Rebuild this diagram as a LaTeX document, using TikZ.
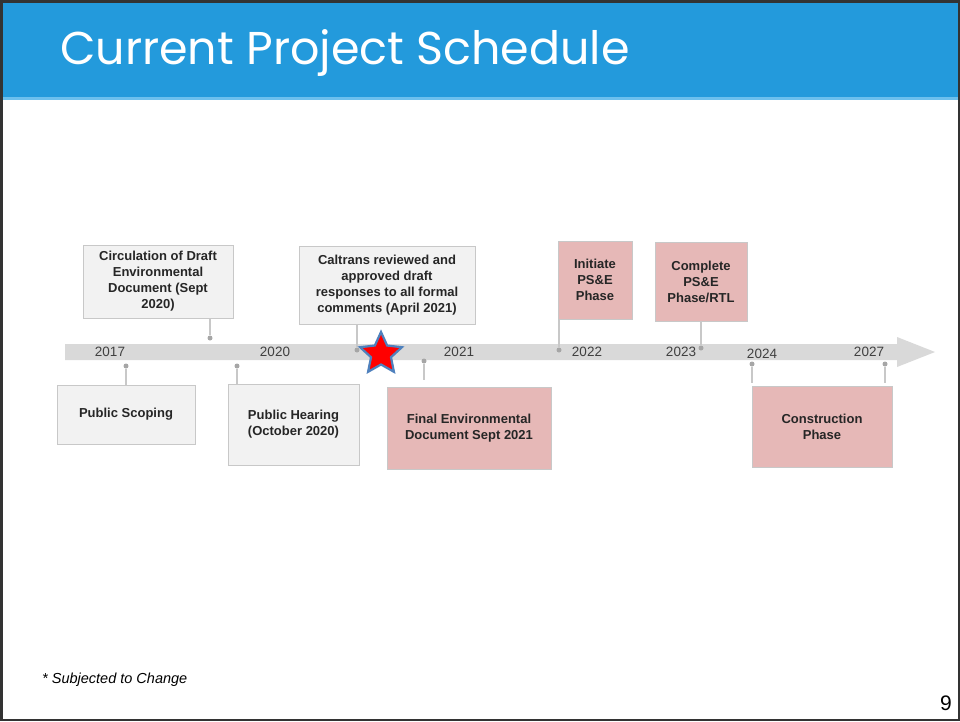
\documentclass[tikz,border=0pt]{standalone}
\usepackage{fontspec}
\setmainfont{Liberation Sans}
\newfontfamily\titlefont{Poppins}
\usetikzlibrary{shapes.geometric}
\definecolor{hdrblue}{HTML}{239ADC}
\definecolor{hdrline}{HTML}{6CC0EE}
\definecolor{barcol}{HTML}{D9D9D9}
\definecolor{greybox}{HTML}{F2F2F2}
\definecolor{pinkbox}{HTML}{E6B8B7}
\definecolor{boxline}{HTML}{C8C8C8}
\definecolor{dotcol}{HTML}{A6A6A6}
\definecolor{yearcol}{HTML}{404040}
\definecolor{starblue}{HTML}{4F81BD}
\tikzset{
  evbox/.style={draw=boxline, line width=1pt, fill=greybox, align=center, inner sep=0pt,
     font=\fontsize{13}{16}\selectfont\bfseries, text=black!85},
  pkbox/.style={evbox, fill=pinkbox},
  yr/.style={font=\fontsize{13.5}{16}\selectfont, text=yearcol, inner sep=0pt},
  dot/.style={circle, fill=dotcol, inner sep=0pt, minimum size=5pt},
  conn/.style={draw=boxline, line width=1.2pt}
}
\begin{document}
\begin{tikzpicture}[x=1pt,y=-1pt]
\useasboundingbox (0,0) rectangle (960,721);
\fill[white] (0,0) rectangle (960,721);
% header
\fill[hdrblue] (0,0) rectangle (960,98);
\fill[hdrline] (0,97) rectangle (960,100);
\node[anchor=west, text=white, font=\titlefont\fontsize{46}{52}\selectfont, inner sep=0pt] (title) at (60,53) {Current Project Schedule};
% border
\draw[line width=2.5pt, black!80] (1.25,1.25) rectangle (958.75,719.75);
% timeline bar
\fill[barcol] (65,344) -- (897,344) -- (897,337) -- (935,352) -- (897,367) -- (897,360) -- (65,360) -- cycle;
% years
\node[yr] (y2017) at (110,352) {2017};
\node[yr] (y2020) at (275,352) {2020};
\node[yr] (y2021) at (459,352) {2021};
\node[yr] (y2022) at (587,352) {2022};
\node[yr] (y2023) at (681,352) {2023};
\node[yr] (y2024) at (762,354) {2024};
\node[yr] (y2027) at (869,352) {2027};
% dots
\node[dot] (d1) at (210,338) {};
\node[dot] (d2) at (126,366) {};
\node[dot] (d3) at (237,366) {};
\node[dot] (d4) at (357,350) {};
\node[dot] (d5) at (424,361) {};
\node[dot] (d6) at (559,350) {};
\node[dot] (d7) at (701,348) {};
\node[dot] (d8) at (752,364) {};
\node[dot] (d9) at (885,364) {};
% boxes
\node[evbox, minimum width=150pt, minimum height=73pt] (circ) at (158,281.5) {Circulation of Draft\\Environmental\\Document (Sept\\2020)};
\node[evbox, minimum width=138pt, minimum height=59pt] (scop) at (126,414.5) {Public Scoping};
\node[evbox, minimum width=131pt, minimum height=81pt] (hear) at (293.5,424.5) {Public Hearing\\(October 2020)};
\node[evbox, minimum width=176pt, minimum height=78pt] (caltr) at (387,285) {Caltrans reviewed and\\approved draft\\responses to all formal\\comments (April 2021)};
\node[pkbox, minimum width=164pt, minimum height=82pt] (final) at (469,428) {Final Environmental\\Document Sept 2021};
\node[pkbox, minimum width=74pt, minimum height=78pt] (init) at (595,280) {Initiate\\PS\&E\\Phase};
\node[pkbox, minimum width=92pt, minimum height=79pt] (compl) at (701,281.5) {Complete\\PS\&E\\Phase/RTL};
\node[pkbox, minimum width=140pt, minimum height=81pt] (constr) at (822,426.5) {Construction\\Phase};
% connectors
\draw[conn] (circ.south -| d1) -- (d1);
\draw[conn] (d2) -- (scop.north -| d2);
\draw[conn] (d3) -- (hear.north -| d3);
\draw[conn] (caltr.south -| d4) -- (d4);
\draw[conn] (d5) -- (424,380);
\draw[conn] (init.south -| d6) -- (d6);
\draw[conn] (compl.south -| d7) -- (d7);
\draw[conn] (d8) -- (752,383);
\draw[conn] (d9) -- (885,383);
% star
\node[star, star points=5, star point ratio=2.1, minimum size=44pt, inner sep=0pt, fill=red, draw=starblue, line width=2.2pt] (star) at (381,354) {};
% footnote
\node[anchor=west, font=\fontsize{14.5}{17}\selectfont\itshape, inner sep=0pt] (note) at (42,680) {* Subjected to Change};
\node[font=\fontsize{21}{24}\selectfont, inner sep=0pt] (pg) at (946,703) {9};
\end{tikzpicture}
\end{document}
